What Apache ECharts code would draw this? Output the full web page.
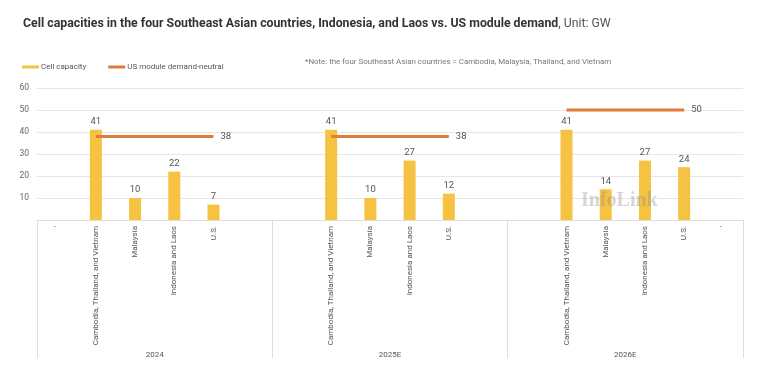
<!DOCTYPE html>
<html>
<head>
<meta charset="utf-8">
<script src="https://cdn.jsdelivr.net/npm/echarts@6/dist/echarts.min.js"></script>
<style>html,body{margin:0;padding:0;background:#fff;}#c{width:768px;height:380px;}</style>
</head>
<body>
<div id="c"></div>
<script>
var categories = ["'", "Cambodia, Thailand, and Vietnam", "Malaysia", "Indonesia and Laos", "U.S.", "",
                  "", "Cambodia, Thailand, and Vietnam", "Malaysia", "Indonesia and Laos", "U.S.", "",
                  "", "Cambodia, Thailand, and Vietnam", "Malaysia", "Indonesia and Laos", "U.S.", "'"];
var groups = ["2024", "2025E", "2026E"];
var cellCapacity = [null, 41, 10, 22, 7, null,
                    null, 41, 10, 27, 12, null,
                    null, 41, 14, 27, 24, null];
var usDemand = [null, 38, 38, 38, 38, null,
                null, 38, 38, 38, 38, null,
                null, 50, 50, 50, 50, null];
var yTicks = [0, 10, 20, 30, 40, 50, 60];

var FONT = '"Liberation Sans Narrow", "Roboto", sans-serif';
var lineData = usDemand.map(function (v, i) {
  var last = v != null && (i === usDemand.length - 1 || usDemand[i + 1] == null);
  return last ? { value: v, label: { show: true } } : v;
});

var chart = echarts.init(document.getElementById('c'), null, { renderer: 'canvas' });
chart.setOption({
  animation: false,
  textStyle: { fontFamily: FONT },
  title: {
    left: 18, top: 13,
    text: '{b|Cell capacities in the four Southeast Asian countries, Indonesia, and Laos vs. US module demand}{n|, Unit: GW}',
    textStyle: {
      rich: {
        b: { fontFamily: FONT, fontWeight: 'bold', fontSize: 12.3, color: '#333' },
        n: { fontFamily: FONT, fontWeight: 'normal', fontSize: 12.3, color: '#555' }
      }
    }
  },
  legend: {
    left: 17, top: 58,
    itemWidth: 17, itemHeight: 3, itemGap: 22,
    icon: 'rect',
    textStyle: { fontFamily: FONT, fontSize: 8, color: '#555', padding: [0, 0, 0, -3] },
    data: ['Cell capacity', 'US module demand-neutral']
  },
  graphic: [
    { type: 'text', left: 305, top: 58, style: { text: '*Note: the four Southeast Asian countries = Cambodia, Malaysia, Thailand, and Vietnam', font: '7.9px ' + FONT, fill: '#777' } },
    { type: 'text', left: 581, top: 191, z: 100, style: { text: 'InfoLink', font: 'bold 20px "Liberation Serif", serif', fill: 'rgba(140,140,140,0.35)' } }
  ],
  grid: { left: 37, right: 25, top: 88, bottom: 160, containLabel: false },
  xAxis: [
    {
      type: 'category', data: categories, position: 'bottom',
      axisLine: { lineStyle: { color: '#dddddd' } },
      axisTick: { show: false },
      axisLabel: { interval: 0, rotate: 90, fontSize: 8, color: '#555', margin: 6, fontFamily: FONT }
    },
    {
      type: 'category', data: groups, position: 'bottom', offset: 138,
      axisLine: { show: false },
      axisTick: { show: true, inside: true, length: 138, lineStyle: { color: '#dddddd' } },
      axisLabel: { fontSize: 8, color: '#555', margin: -7, fontFamily: FONT }
    }
  ],
  yAxis: {
    type: 'value', min: 0, max: 60, interval: 10,
    axisLine: { show: false }, axisTick: { show: false },
    splitLine: { lineStyle: { color: '#e6e6e6' } },
    axisLabel: { fontSize: 8.5, color: '#666', margin: 8, fontFamily: FONT,
      formatter: function (v) { return v === 0 ? '' : String(v); } }
  },
  series: [
    {
      name: 'Cell capacity', type: 'bar', data: cellCapacity, barWidth: 12,
      itemStyle: { color: '#F5C242' },
      label: { show: true, position: 'top', distance: 3, fontSize: 9.5, color: '#555', fontFamily: FONT }
    },
    {
      name: 'US module demand-neutral', type: 'line', data: lineData,
      showSymbol: true, symbol: 'circle', symbolSize: 0, connectNulls: false,
      lineStyle: { color: '#E07B39', width: 3 },
      itemStyle: { color: '#E07B39' },
      label: { show: false, position: 'right', distance: 7, fontSize: 9.5, color: '#555', fontFamily: FONT }
    }
  ]
});
</script>
</body>
</html>
